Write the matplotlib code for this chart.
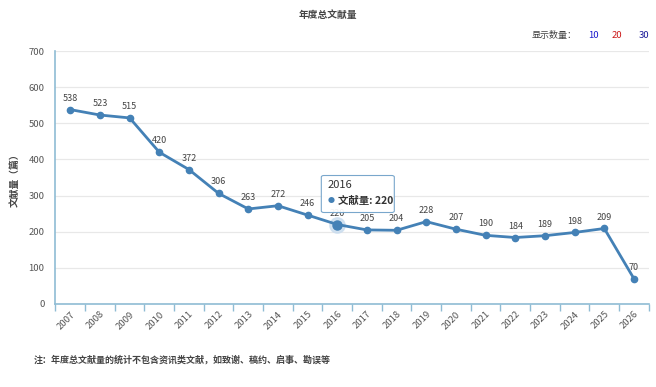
import numpy as np
import matplotlib
matplotlib.use('Agg')
import matplotlib.pyplot as plt
from matplotlib.patches import FancyBboxPatch

plt.rcParams['font.family'] = ['Noto Sans CJK SC', 'DejaVu Sans']

# === Данные ===
years = ['2007', '2008', '2009', '2010', '2011', '2012', '2013', '2014', '2015', '2016',
         '2017', '2018', '2019', '2020', '2021', '2022', '2023', '2024', '2025', '2026']
counts = [538, 523, 515, 420, 372, 306, 263, 272, 246, 220,
          205, 204, 228, 207, 190, 184, 189, 198, 209, 70]
hover_idx = 9  # 2016, подсвеченная точка с подсказкой

LINE = '#4481b6'
AXIS = '#8fbcd4'
GRAY = '#555555'

fig = plt.figure(figsize=(6.56, 3.87), dpi=100)
ax = fig.add_axes([0.0846, 0.2145, 0.9044, 0.6535])

x = np.arange(len(years))
ax.plot(x, counts, color=LINE, lw=2, marker='o', ms=4.5, zorder=3)

# подсветка точки
ax.plot(x[hover_idx], counts[hover_idx], 'o', ms=11, color='#c9dcee', alpha=0.8, zorder=2)
ax.plot(x[hover_idx], counts[hover_idx], 'o', ms=6.5, color=LINE, zorder=4)

for xi, v in zip(x, counts):
    ax.annotate(str(v), (xi, v), xytext=(0, 5), textcoords='offset points',
                ha='center', va='bottom', fontsize=6.5, color='#444444', zorder=5)

ax.set_xlim(-0.5, len(years) - 0.5)
ax.set_ylim(0, 700)
ax.set_yticks(np.arange(0, 701, 100))
ax.tick_params(axis='y', length=0, labelsize=6.8, labelcolor=GRAY, pad=8)

# деления между категориями, подписи по центру
ax.set_xticks(np.arange(-0.5, len(years), 1))
ax.set_xticklabels([])
ax.set_xticks(x, minor=True)
ax.set_xticklabels(years, minor=True, rotation=45, ha='right', va='top',
                   rotation_mode='anchor', fontsize=6.8, color=GRAY)
ax.tick_params(axis='x', which='major', length=5, color=AXIS, width=1)
ax.tick_params(axis='x', which='minor', length=0, pad=4)

ax.grid(axis='y', color='#e8e8e8', lw=0.9)
ax.set_axisbelow(True)
for s in ['top', 'right']:
    ax.spines[s].set_visible(False)
ax.spines['left'].set_color(AXIS)
ax.spines['bottom'].set_color(AXIS)
ax.spines['left'].set_linewidth(1.2)
ax.spines['bottom'].set_linewidth(1.2)

ax.set_ylabel('文献量（篇）', fontsize=7, color='#444444', fontweight='bold', labelpad=6)

# подсказка над точкой
px, py = ax.transData.transform((x[hover_idx], counts[hover_idx]))
to_fig = fig.transFigure.inverted()
bx0, by0 = to_fig.transform((px - 16, py + 12))
bx1, by1 = to_fig.transform((px + 57, py + 49))
box = FancyBboxPatch((bx0, by0), bx1 - bx0, by1 - by0, transform=fig.transFigure,
                     boxstyle='round,pad=0,rounding_size=0.004', fc='white', ec='#6fa0c8',
                     lw=0.8, alpha=0.93, zorder=10)
fig.patches.append(box)
fig.text(bx0 + 0.009, by1 - 0.011, years[hover_idx], fontsize=8, color='#333333',
         va='top', ha='left', zorder=11)
fig.text(bx0 + 0.009, by0 + 0.03, '●', fontsize=5, color=LINE, va='center', ha='left', zorder=11)
fig.text(bx0 + 0.026, by0 + 0.03, f'文献量: {counts[hover_idx]}', fontsize=7.5,
         color='#333333', fontweight='bold', va='center', ha='left', zorder=11)

# заголовки и примечания
fig.text(0.5, 0.962, '年度总文献量', ha='center', va='center', fontsize=7,
         fontweight='bold', color='#444444')
fig.text(0.81, 0.907, '显示数量：', ha='left', va='center', fontsize=6.5, color='#444444')
fig.text(0.904, 0.907, '10', ha='center', va='center', fontsize=6.8, color='#1a1acc')
fig.text(0.94, 0.907, '20', ha='center', va='center', fontsize=6.8, color='#cc1a1a')
fig.text(0.982, 0.907, '30', ha='center', va='center', fontsize=6.8, color='#1a1a99')
fig.text(0.052, 0.07, '注：年度总文献量的统计不包含资讯类文献，如致谢、稿约、启事、勘误等',
         ha='left', va='center', fontsize=6.5, fontweight='bold', color='#444444')

fig.savefig('out.png', dpi=100)
